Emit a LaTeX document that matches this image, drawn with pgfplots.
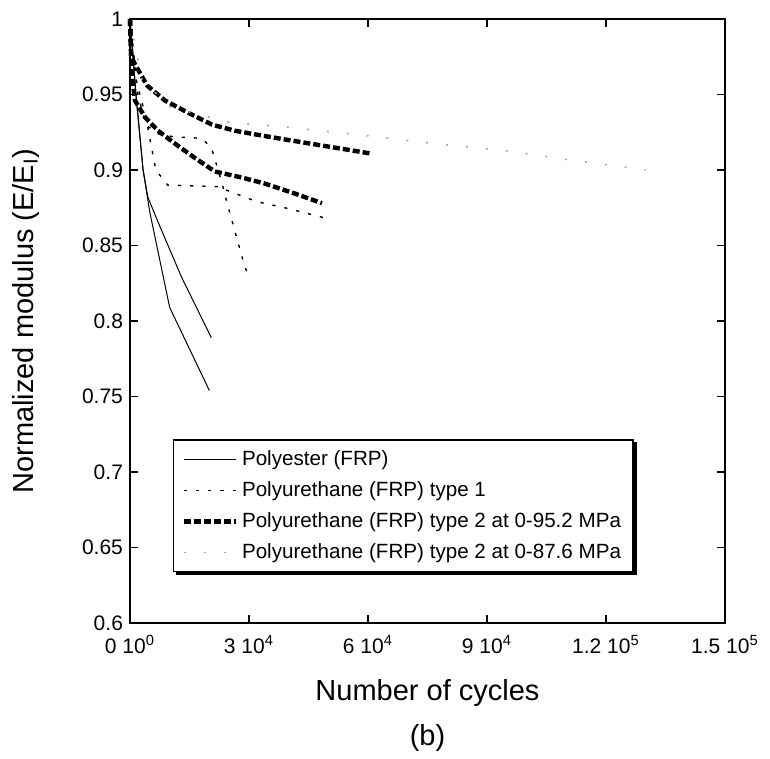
\documentclass[border=0pt]{standalone}
\usepackage{pgfplots}
\pgfplotsset{compat=1.18}
\usepackage{fontspec}
\setmainfont{Liberation Sans}

\pgfplotstableread{
x y
0 1
1500 0.95
3300 0.90
4500 0.882
7000 0.866
13000 0.829
20500 0.789
}\polyA
\pgfplotstableread{
x y
0 1
1500 0.95
3300 0.90
5000 0.872
10000 0.809
20000 0.754
}\polyB
\pgfplotstableread{
x y
0 1
1500 0.96
4000 0.935
6500 0.90
9500 0.890
22000 0.889
32000 0.879
39000 0.875
49500 0.868
}\urA
\pgfplotstableread{
x y
0 1
2000 0.95
4000 0.930
7000 0.924
11000 0.922
18000 0.921
20500 0.915
23000 0.893
24700 0.876
26500 0.859
28500 0.840
29500 0.832
}\urB
\pgfplotstableread{
x y
0 1
300 0.975
1260 0.970
4290 0.956
8820 0.946
14600 0.938
20700 0.930
26500 0.926
32800 0.923
39600 0.920
51200 0.915
60500 0.911
}\typeTwoA
\pgfplotstableread{
x y
0 1
400 0.965
1260 0.946
3780 0.935
7060 0.926
12600 0.915
16900 0.907
21400 0.899
28200 0.895
34000 0.891
42000 0.884
48400 0.878
}\typeTwoB
\pgfplotstableread{
x y
0 1
3000 0.960
10000 0.942
24000 0.932
41000 0.928
62000 0.922
75000 0.918
94000 0.913
110000 0.907
130000 0.900
}\typeTwoC

\begin{document}
\begin{tikzpicture}
\begin{axis}[
  scale only axis,
  width=297.5pt, height=302pt,
  xmin=0, xmax=150000, ymin=0.6, ymax=1,
  clip=false,
  scaled x ticks=false, scaled y ticks=false,
  axis line style={line width=0.8pt},
  tick align=inside,
  major tick length=4pt,
  tick style={line width=0.6pt, black},
  xtick={0,30000,60000,90000,120000,150000},
  xticklabels={0 10\textsuperscript{0},3 10\textsuperscript{4},6 10\textsuperscript{4},9 10\textsuperscript{4},1.2 10\textsuperscript{5},1.5 10\textsuperscript{5}},
  ytick={0.6,0.65,0.7,0.75,0.8,0.85,0.9,0.95,1},
  yticklabels={0.6,0.65,0.7,0.75,0.8,0.85,0.9,0.95,1},
  ticklabel style={font=\fontsize{10.5}{12}\selectfont},
  xticklabel style={yshift=-2.5pt},
  xlabel={Number of cycles},
  ylabel={Normalized modulus (E/E\textsubscript{I})},
  label style={font=\fontsize{14.5}{16}\selectfont},
  xlabel style={at={(axis description cs:0.5,0)}, anchor=center, yshift=-35pt},
  ylabel style={at={(axis description cs:-0.175,0.5)}, anchor=center},
  legend cell align=left,
  legend image code/.code={\draw[#1] (0pt,0pt) -- (26pt,0pt);},
  legend style={at={(axis description cs:0.072,0.084)}, anchor=south west,
    name=leg,
    font=\fontsize{10.3}{12}\selectfont, row sep=2.6pt,
    draw=black, line width=0.8pt, inner xsep=4pt, inner ysep=3pt},
]
\coordinate (O) at (rel axis cs:0,0);
\addplot[black, line width=0.5pt] table {\polyA};
\addlegendentry{Polyester (FRP)}
\addplot[black, line width=0.7pt, dash pattern=on 1.6pt off 4.5pt] table {\urA};
\addlegendentry{Polyurethane (FRP) type 1}
\addplot[black, line width=2.2pt, dash pattern=on 3.5pt off 1.5pt] table {\typeTwoA};
\addlegendentry{Polyurethane (FRP) type 2 at 0-95.2 MPa}
\addplot[gray!70, line width=0.8pt, dash pattern=on 1pt off 9pt] table {\typeTwoC};
\addlegendentry{Polyurethane (FRP) type 2 at 0-87.6 MPa}
\addplot[black, line width=0.5pt, forget plot] table {\polyB};
\addplot[black, line width=0.7pt, dash pattern=on 1.6pt off 4.5pt, forget plot] table {\urB};
\addplot[black, line width=2.2pt, dash pattern=on 3.5pt off 1.5pt, forget plot] table {\typeTwoB};
\end{axis}
\draw[black, line width=1.6pt] ([xshift=1.5pt,yshift=-0.8pt]leg.south west) -- ([xshift=0.8pt,yshift=-0.8pt]leg.south east) -- ([xshift=0.8pt,yshift=-1.5pt]leg.north east);
\path (O) ++(148.75pt,-57.5pt) node[font=\fontsize{14.5}{16}\selectfont] {(b)};
\path (O) ++(-65pt,-66.5pt) rectangle ++(385pt,378pt);
\end{tikzpicture}
\end{document}
